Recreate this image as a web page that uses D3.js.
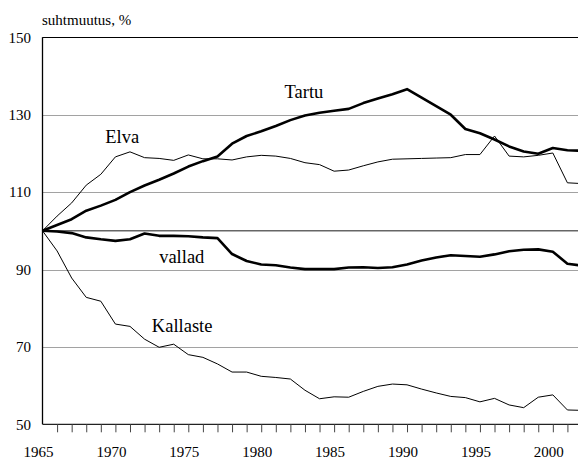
<!DOCTYPE html>
<html>
  <head>
    <meta charset="utf-8"/>
    <title>suhtmuutus, %</title>
    <script src="https://cdn.jsdelivr.net/npm/d3@7"></script>
    <style>
      body { margin: 0; background: #fff; }
    </style>
  </head>
  <body>
    <div id="chart"></div>
    <script type="text/javascript">

      // years on the x axis
      var years = d3.range(1965, 2003);

      // relative change, 1965 = 100
      var tartu = [100, 101.5, 103.0, 105.2, 106.5, 108.0, 110.0, 111.7, 113.2, 114.8,
        116.6, 118.0, 119.2, 122.5, 124.5, 125.7, 127.1, 128.6, 129.8, 130.5,
        131.0, 131.5, 133.0, 134.2, 135.3, 136.6, 134.4, 132.2, 130.0, 126.3,
        125.2, 123.6, 121.8, 120.5, 119.9, 121.4, 120.8, 120.7];
      var elva = [100, 103.8, 107.2, 111.8, 114.6, 119.1, 120.4, 118.9, 118.7, 118.2,
        119.6, 118.6, 118.6, 118.3, 119.1, 119.5, 119.3, 118.7, 117.6, 117.1,
        115.4, 115.7, 116.8, 117.8, 118.5, 118.6, 118.7, 118.8, 118.9, 119.7,
        119.7, 124.5, 119.3, 119.1, 119.5, 120.1, 112.4, 112.2];
      var vallad = [100, 99.8, 99.4, 98.3, 97.8, 97.4, 97.8, 99.3, 98.7, 98.7,
        98.6, 98.3, 98.1, 94.0, 92.2, 91.3, 91.1, 90.5, 90.1, 90.1,
        90.1, 90.5, 90.6, 90.4, 90.6, 91.3, 92.3, 93.1, 93.7, 93.5,
        93.3, 93.9, 94.7, 95.1, 95.2, 94.6, 91.5, 91.0];
      var kallaste = [100, 94.8, 87.8, 82.8, 81.8, 75.9, 75.3, 72.0, 69.9, 70.7,
        68.0, 67.3, 65.6, 63.5, 63.5, 62.4, 62.1, 61.7, 58.8, 56.6,
        57.1, 57.0, 58.5, 59.8, 60.4, 60.2, 59.1, 58.1, 57.2, 56.9,
        55.8, 56.7, 55.0, 54.3, 57.0, 57.6, 53.7, 53.6];

      var yTickValues = [50, 70, 90, 110, 130, 150];
      var xLabelYears = [1965, 1970, 1975, 1980, 1985, 1990, 1995, 2000];

      var series = [
        {name: "Tartu", values: tartu, thick: true},
        {name: "Elva", values: elva, thick: false},
        {name: "vallad", values: vallad, thick: true},
        {name: "Kallaste", values: kallaste, thick: false}
      ];

      // where the name of each series is written (year, value of baseline)
      var labels = [
        {text: "Tartu", year: 1981.6, value: 134.2},
        {text: "Elva", year: 1969.3, value: 122.6},
        {text: "vallad", year: 1973.0, value: 91.6},
        {text: "Kallaste", year: 1972.5, value: 73.9}
      ];

      var w = 578, h = 459;
      var serif = "'Liberation Serif'";

      // the last year sits just past the right edge, as in the original
      var x = d3.scaleLinear().domain([1965, 2002]).range([42.5, 582]);
      var y = d3.scaleLinear().domain([50, 150]).range([424.3, 37.3]);

      var svg = d3.select("#chart")
        .append("svg")
        .attr("width", w)
        .attr("height", h)
      ;

      // horizontal grid lines
      svg.append("g")
        .selectAll("line")
        .data([70, 90, 110, 130])
        .enter()
        .append("line")
        .attr("x1", x(1965)).attr("x2", w)
        .attr("y1", function(d) { return Math.round(y(d)) + 0.5; })
        .attr("y2", function(d) { return Math.round(y(d)) + 0.5; })
        .attr("stroke", "#444")
        .attr("stroke-width", 1)
        .attr("stroke-dasharray", "1,1")
      ;
      // 100 reference line
      svg.append("line")
        .attr("x1", x(1965)).attr("x2", w)
        .attr("y1", y(100)).attr("y2", y(100))
        .attr("stroke", "#666")
        .attr("stroke-width", 1.5)
      ;
      // top border
      svg.append("line")
        .attr("x1", x(1965)).attr("x2", w)
        .attr("y1", Math.round(y(150)) + 0.5).attr("y2", Math.round(y(150)) + 0.5)
        .attr("stroke", "#000")
      ;

      // x axis: a tick every year, labels every five years
      var xAxis = d3.axisBottom(x)
        .tickValues(years.slice(1))
        .tickSize(8)
        .tickFormat("")
      ;
      var gx = svg.append("g")
        .attr("transform", "translate(0," + y(50) + ")")
        .call(xAxis)
      ;
      gx.select(".domain").attr("d", "M" + x(1965) + ",0H" + w).attr("stroke", "#222").attr("stroke-width", 1.3);
      gx.selectAll(".tick line").attr("stroke", "#444");

      svg.append("g")
        .selectAll("text")
        .data(xLabelYears)
        .enter()
        .append("text")
        .attr("x", function(d) { return x(d) - 4; })
        .attr("y", 457)
        .attr("text-anchor", "middle")
        .style("font-family", serif)
        .style("font-size", "15px")
        .text(function(d) { return d; })
      ;

      // y axis line and labels
      svg.append("line")
        .attr("x1", x(1965)).attr("x2", x(1965))
        .attr("y1", y(150)).attr("y2", y(50))
        .attr("stroke", "#000")
        .attr("stroke-width", 1.3)
      ;
      svg.append("g")
        .selectAll("text")
        .data(yTickValues)
        .enter()
        .append("text")
        .attr("x", 31)
        .attr("y", function(d) { return y(d); })
        .attr("dy", "0.35em")
        .attr("text-anchor", "end")
        .style("font-family", serif)
        .style("font-size", "15px")
        .text(function(d) { return d; })
      ;

      svg.append("text")
        .attr("x", 42)
        .attr("y", 25)
        .style("font-family", serif)
        .style("font-size", "15px")
        .text("suhtmuutus, %")
      ;

      // lines
      var line = d3.line()
        .x(function(d, i) { return x(years[i]); })
        .y(function(d) { return y(d); })
      ;
      svg.append("g")
        .selectAll("path")
        .data(series)
        .enter()
        .append("path")
        .attr("d", function(d) { return line(d.values); })
        .attr("fill", "none")
        .attr("stroke", "#000")
        .attr("stroke-width", function(d) { return d.thick ? 2.6 : 1; })
        .attr("stroke-linejoin", "round")
      ;

      // series names
      svg.append("g")
        .selectAll("text")
        .data(labels)
        .enter()
        .append("text")
        .attr("x", function(d) { return x(d.year); })
        .attr("y", function(d) { return y(d.value); })
        .style("font-family", serif)
        .style("font-size", "18.5px")
        .text(function(d) { return d.text; })
      ;
    </script>
  </body>
</html>
